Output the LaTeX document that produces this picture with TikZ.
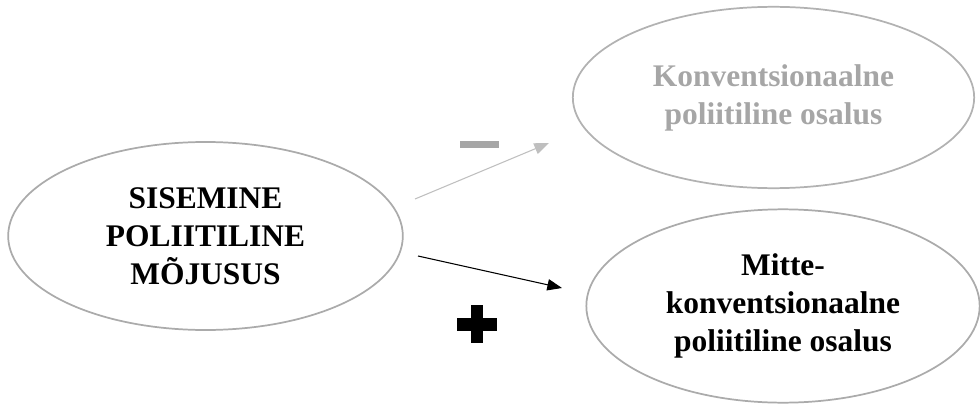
\documentclass[tikz,border=0pt]{standalone}
\usepackage{fontspec}
\setmainfont{Liberation Serif}
\usepackage{tikz}
\usetikzlibrary{arrows.meta,positioning,shapes.geometric,calc}
\tikzset{
    rim color/.style={black!30},
    weak color/.style={black!35},
    weak arrow color/.style={black!25},
    concept/.style={ellipse,draw=black!33,line width=1.3pt,inner sep=0pt,align=center,
        font=\bfseries\fontsize{23.6}{28.5}\selectfont},
    arr/.style={-{Triangle[length=11pt,width=8.5pt]},line width=0.8pt},
    sign bar/.style={rectangle,inner sep=0pt,outer sep=0pt},
}
\tikzstyle{every node}=[font=\footnotesize]

\begin{document}
\begin{tikzpicture}[x=0.75pt,y=-0.75pt]
        \useasboundingbox (0,0) rectangle (980,406);

        \node[concept,minimum width=296pt,minimum height=141pt] (effic) at (205.5,236)
            {SISEMINE\\POLIITILINE\\MÕJUSUS};
        \node[concept,weak color,draw=black!30,minimum width=301pt,minimum height=136pt] (conv) at (773.5,97.5)
            {Konventsionaalne\\poliitiline osalus};
        \node[concept,minimum width=295pt,minimum height=145pt] (nonconv) at (783,306)
            {Mitte-\\konventsionaalne\\poliitiline osalus};

        \coordinate (g from) at (415,199);
        \coordinate (g to) at (549,143);
        \coordinate (b from) at (418,256);
        \coordinate (b to) at (562,288);
        \draw[arr,weak arrow color] (g from) -- (g to);
        \draw[arr] (b from) -- (b to);

        % signs
        \node[sign bar,fill=black!35,minimum width=29.25pt,minimum height=5.25pt] (minus) at (479.5,144.5) {};
        \node[sign bar,fill=black,minimum width=30pt,minimum height=9.75pt] (plus h) at (477,324.5) {};
        \node[sign bar,fill=black,minimum width=9pt,minimum height=28.5pt] (plus v) at (477,324) {};
    \end{tikzpicture}
\end{document}
